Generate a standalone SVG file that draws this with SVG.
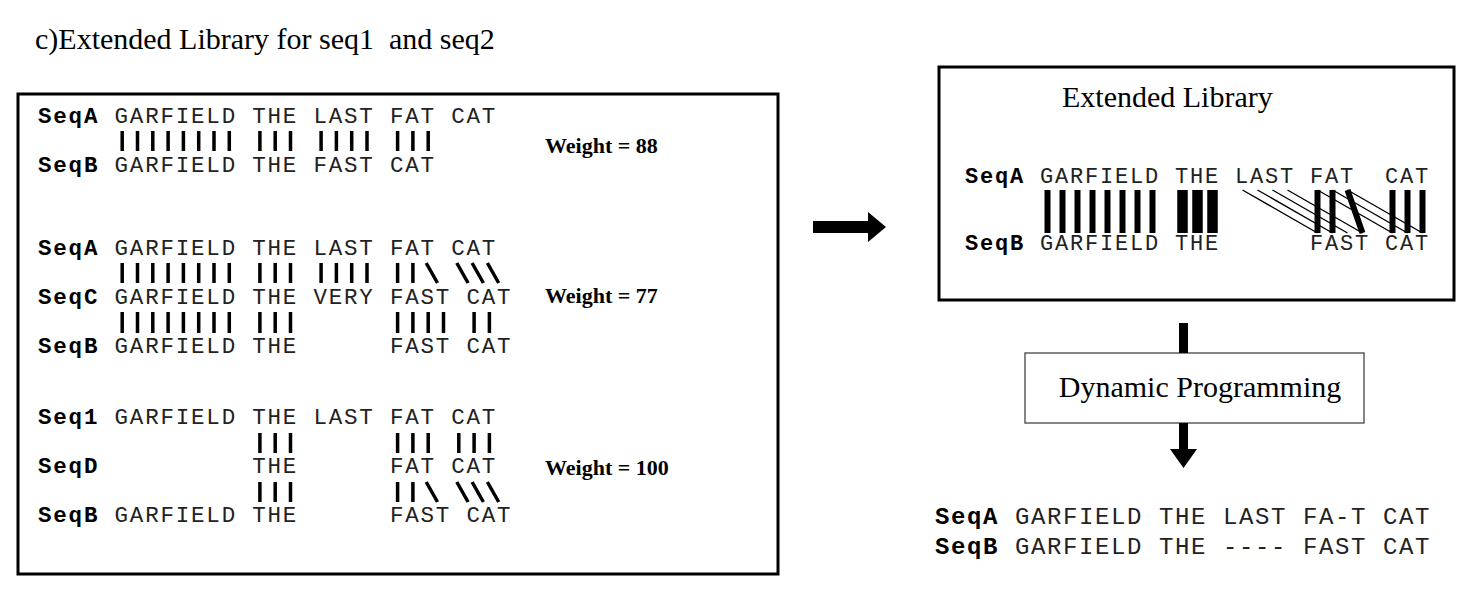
<svg xmlns="http://www.w3.org/2000/svg" width="1480" height="594" viewBox="0 0 1480 594">
<style>
.bg{fill:#fff}
.box{fill:#fff;stroke:#000;stroke-width:3}
.thinbox{fill:#fff;stroke:#444;stroke-width:1.3}
.serif{font-family:"Liberation Serif","Times New Roman",serif;fill:#000}
.mono{font-family:"Liberation Mono","Courier New",monospace;fill:#222;font-size:22.5px;letter-spacing:1.8px}
.mono2{font-family:"Liberation Mono","Courier New",monospace;fill:#222;font-size:22px;letter-spacing:1.8px}
.mono3{font-family:"Liberation Mono","Courier New",monospace;fill:#222;font-size:24px;letter-spacing:1.6px}
.lbl{font-weight:bold;fill:#000}
.bar{stroke:#000;stroke-width:3.5;fill:none}
.bar6{stroke:#000;stroke-width:6;fill:none}
.bar10{stroke:#000;stroke-width:10.5;fill:none}
.thin{stroke:#000;stroke-width:1.4;fill:none}
.arrow{fill:#000}
</style>
<rect class="bg" x="0" y="0" width="1480" height="594"/>
<text class="serif" x="35" y="49" font-size="30" xml:space="preserve">c)Extended Library for seq1  and seq2</text>

<g id="library-pairs">
<rect class="box" x="18" y="94" width="760" height="480"/>
<!-- block 1 -->
<text class="mono" x="38" y="123" xml:space="preserve"><tspan class="lbl">SeqA</tspan> GARFIELD THE LAST FAT CAT</text>
<path class="bar" d="M122.2 131V151M137.5 131V151M152.8 131V151M168.1 131V151M183.4 131V151M198.7 131V151M214 131V151M229.3 131V151M259.9 131V151M275.2 131V151M290.5 131V151M321.1 131V151M336.4 131V151M351.7 131V151M367 131V151M397.6 131V151M412.9 131V151M428.2 131V151"/>
<text class="mono" x="38" y="172" xml:space="preserve"><tspan class="lbl">SeqB</tspan> GARFIELD THE FAST CAT</text>
<text class="serif lbl" x="545" y="153" font-size="22">Weight = 88</text>
<!-- block 2 -->
<text class="mono" x="38" y="255" xml:space="preserve"><tspan class="lbl">SeqA</tspan> GARFIELD THE LAST FAT CAT</text>
<path class="bar" d="M122.2 263V283M137.5 263V283M152.8 263V283M168.1 263V283M183.4 263V283M198.7 263V283M214 263V283M229.3 263V283M259.9 263V283M275.2 263V283M290.5 263V283M321.1 263V283M336.4 263V283M351.7 263V283M367 263V283M397.6 263V283M412.9 263V283M426.2 263L437.5 283M456.8 263L468.1 283M472.1 263L483.4 283M487.4 263L498.7 283"/>
<text class="mono" x="38" y="304" xml:space="preserve"><tspan class="lbl">SeqC</tspan> GARFIELD THE VERY FAST CAT</text>
<path class="bar" d="M122.2 312V333M137.5 312V333M152.8 312V333M168.1 312V333M183.4 312V333M198.7 312V333M214 312V333M229.3 312V333M259.9 312V333M275.2 312V333M290.5 312V333M397.6 312V333M412.9 312V333M428.2 312V333M443.5 312V333M474.1 312V333M489.4 312V333"/>
<text class="mono" x="38" y="353" xml:space="preserve"><tspan class="lbl">SeqB</tspan> GARFIELD THE      FAST CAT</text>
<text class="serif lbl" x="545" y="303" font-size="22">Weight = 77</text>
<!-- block 3 -->
<text class="mono" x="38" y="424" xml:space="preserve"><tspan class="lbl">Seq1</tspan> GARFIELD THE LAST FAT CAT</text>
<path class="bar" d="M259.9 433V453M275.2 433V453M290.5 433V453M397.6 433V453M412.9 433V453M428.2 433V453M458.8 433V453M474.1 433V453M489.4 433V453"/>
<text class="mono" x="38" y="473" xml:space="preserve"><tspan class="lbl">SeqD</tspan>          THE      FAT CAT</text>
<path class="bar" d="M259.9 482V502M275.2 482V502M290.5 482V502M397.6 482V502M412.9 482V502M426.2 482L437.5 502M456.8 482L468.1 502M472.1 482L483.4 502M487.4 482L498.7 502"/>
<text class="mono" x="38" y="522" xml:space="preserve"><tspan class="lbl">SeqB</tspan> GARFIELD THE      FAST CAT</text>
<text class="serif lbl" x="545" y="475" font-size="22">Weight = 100</text>
</g>

<g id="extended-library">
<rect class="box" x="939" y="67" width="515" height="233"/>
<text class="serif" x="1062" y="107" font-size="30">Extended Library</text>
<text class="mono2" x="965" y="183" xml:space="preserve"><tspan class="lbl">SeqA</tspan> GARFIELD THE LAST FAT  CAT</text>
<path class="thin" d="M1242.5 190L1317.5 233M1257.5 190L1332.5 233M1272.5 190L1347.5 233M1287.5 190L1362.5 233M1317.5 190L1392.5 233M1332.5 190L1407.5 233M1347.5 190L1422.5 233"/>
<path class="bar6" d="M1047.5 190V233M1062.5 190V233M1077.5 190V233M1092.5 190V233M1107.5 190V233M1122.5 190V233M1137.5 190V233M1152.5 190V233M1317.5 190V233M1332.5 190V233M1347.5 190L1362.5 233M1392.5 190V233M1407.5 190V233M1422.5 190V233"/>
<path class="bar10" d="M1182.5 190V233M1197.5 190V233M1212.5 190V233"/>
<text class="mono2" x="965" y="250" xml:space="preserve"><tspan class="lbl">SeqB</tspan> GARFIELD THE      FAST CAT</text>
</g>

<g id="dynamic-programming">
<rect class="thinbox" x="1025" y="353" width="339" height="70"/>
<text class="serif" x="1200" y="397" font-size="30" text-anchor="middle">Dynamic Programming</text>
</g>

<g id="result">
<text class="mono3" x="935" y="524" xml:space="preserve"><tspan class="lbl">SeqA</tspan> GARFIELD THE LAST FA-T CAT</text>
<text class="mono3" x="935" y="554" xml:space="preserve"><tspan class="lbl">SeqB</tspan> GARFIELD THE ---- FAST CAT</text>
</g>

<g id="connectors">
<polygon class="arrow" points="813,221 868,221 868,212 886,227 868,242 868,233 813,233"/>
<rect class="arrow" x="1179" y="323" width="9" height="30"/>
<polygon class="arrow" points="1179,423 1188,423 1188,449 1197,449 1183.5,468 1170,449 1179,449"/>
</g>
</svg>
